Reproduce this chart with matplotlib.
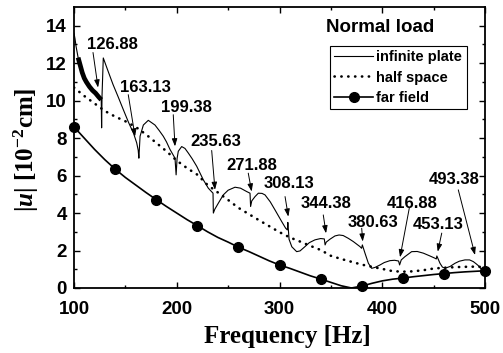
import matplotlib
matplotlib.use("Agg")
import matplotlib.pyplot as plt
from matplotlib.lines import Line2D

# ---------------- data ----------------
plate_f = [100, 101, 102, 104, 106, 108, 110, 112, 115, 118,
           121, 124, 126.5, 126.88, 127.3, 128.5, 133, 138, 143, 148,
           153, 158, 161, 162.5, 163.13, 164.3, 167.5, 172.3, 178.8, 183,
           186.9, 190, 193.4, 196, 198.3, 199.38, 200.3, 201.5, 204.8, 208,
           211.3, 215, 219.4, 225.8, 230.7, 235.3, 235.63, 237, 240.5, 245.3,
           250, 256.7, 262, 268, 271.3, 271.88, 273, 276.2, 279.4, 283,
           285.9, 291, 295.6, 302.1, 306, 307.6, 308.13, 309.3, 312, 316.7,
           320, 324.8, 329, 334.5, 340, 343.6, 344.38, 345.5, 349, 354,
           358, 362, 367, 371.8, 378.3, 379.9, 380.63, 383.2, 386.5, 389.7,
           393, 397.8, 402, 407.5, 412, 415.9, 416.88, 418.5, 422, 428.6,
           434, 440, 446, 451.3, 452.6, 453.13, 456.2, 458.5, 461, 466,
           470.8, 475, 480.5, 485, 488.6, 491.2, 493.38, 496.8, 500]
plate_u = [13.6, 13.3, 12.9, 12.3, 11.9, 11.5, 11.2, 11.0, 10.75, 10.55,
           10.4, 10.2, 10.05, 8.55, 10.3, 12.28, 11.6, 10.86, 10.2, 9.52,
           8.85, 8.25, 7.75, 7.35, 6.93, 8.1, 8.7, 8.95, 8.7, 8.4,
           8.1, 7.8, 7.4, 7.15, 6.93, 6.04, 6.9, 7.3, 7.55, 7.45,
           7.2, 6.9, 6.5, 5.78, 5.33, 5.06, 4.0, 4.2, 4.53, 4.97,
           5.22, 5.38, 5.33, 5.15, 5.06, 4.35, 4.65, 4.88, 5.06, 5.05,
           4.97, 4.6, 4.17, 3.55, 3.19, 3.1, 3.5, 2.6, 2.2, 1.94,
           1.98, 2.21, 2.42, 2.57, 2.64, 2.62, 2.3, 2.45, 2.6, 2.78,
           2.83, 2.8, 2.65, 2.48, 2.21, 2.12, 2.3, 1.86, 1.32, 1.05,
           1.1, 1.23, 1.36, 1.46, 1.48, 1.44, 1.23, 1.5, 1.67, 1.94,
           1.95, 1.86, 1.72, 1.59, 1.55, 1.71, 1.32, 1.12, 1.05, 1.15,
           1.32, 1.43, 1.5, 1.5, 1.41, 1.3, 1.2, 0.98, 1.02]

half_f = list(range(100, 501, 10))
half_u = [10.7, 10.25, 9.85, 9.45, 9.15, 8.9, 8.6, 8.2, 7.75, 7.3,
          6.8, 6.4, 6.05, 5.5, 5.1, 4.7, 4.28, 3.95, 3.62, 3.3,
          2.98, 2.7, 2.48, 2.25, 2.03, 1.72, 1.55, 1.4, 1.25, 1.13,
          1.02, 0.9, 0.87, 0.89, 0.95, 1.04, 1.08, 1.11, 1.13, 1.14,
          1.12]

far_f = list(range(100, 501, 10))
far_u = [8.6, 8.0, 7.4, 6.85, 6.35, 5.9, 5.5, 5.1, 4.72, 4.35,
         4.0, 3.65, 3.33, 3.0, 2.7, 2.45, 2.18, 1.95, 1.7, 1.45,
         1.23, 1.05, 0.85, 0.65, 0.48, 0.3, 0.12, 0.0, 0.1, 0.25,
         0.38, 0.47, 0.53, 0.6, 0.66, 0.72, 0.77, 0.82, 0.86, 0.89,
         0.92]
far_mark_f = [100, 140, 180, 220, 260, 300, 340, 380, 420, 460, 500]
far_mark_u = [8.6, 6.35, 4.72, 3.33, 2.18, 1.23, 0.48, 0.1, 0.53, 0.77, 0.92]

labels = ["126.88", "163.13", "199.38", "235.63", "271.88", "308.13",
          "344.38", "380.63", "416.88", "453.13", "493.38"]
label_x = [137.5, 170, 209.7, 238.2, 273.2, 309.3, 345.3, 391.3, 429, 454.6, 470]
label_y = [13.1, 10.8, 9.73, 7.9, 6.63, 5.68, 4.62, 3.6, 4.6, 3.5, 5.87]
arrow_start_x = [118.5, 152.8, 196.6, 234, 269.6, 305.4, 342.6, 380, 426.3, 457.9, 474]
arrow_start_y = [12.57, 10.32, 9.25, 7.34, 6.13, 4.88, 3.9, 3.19, 4.26, 2.93, 5.24]
arrow_tip_x = [123.4, 159.4, 198.3, 237.2, 272.9, 308.6, 345.3, 381, 417.3, 454, 490.3]
arrow_tip_y = [10.7, 8.09, 7.56, 5.24, 5.15, 3.81, 2.92, 2.48, 1.64, 1.94, 1.76]

# ---------------- style ----------------
plt.rcParams['mathtext.fontset'] = 'custom'
plt.rcParams['mathtext.rm'] = 'Liberation Serif:bold'
plt.rcParams['mathtext.it'] = 'Liberation Serif:italic:bold'
plt.rcParams['mathtext.bf'] = 'Liberation Serif:bold'

fig = plt.figure(figsize=(5.03, 3.53), dpi=100)
ax = fig.add_axes([74/503, 65/353, 411/503, 281/353])

sans = 'Liberation Sans'

ax.plot(plate_f, plate_u, color='black', lw=0.8, label='infinite plate')
thick = [i for i, f in enumerate(plate_f) if 104 <= f <= 126.5]
ax.plot([plate_f[i] for i in thick], [plate_u[i] for i in thick],
        color='black', lw=3.4, solid_capstyle='butt')
ax.plot(half_f, half_u, color='black', lw=1.9, linestyle=(0, (0.1, 2.5)),
        dash_capstyle='round', label='half space')
ax.plot(far_f, far_u, color='black', lw=1.2)
ax.plot(far_mark_f, far_mark_u, linestyle='none', marker='o', ms=7,
        color='black', clip_on=False, zorder=5)

for t, lx, ly, sx, sy, tx, ty in zip(labels, label_x, label_y, arrow_start_x,
                                     arrow_start_y, arrow_tip_x, arrow_tip_y):
    ax.text(lx, ly - 0.33, t, ha='center', va='baseline', fontsize=12,
            fontweight='bold', family=sans)
    ax.annotate('', xy=(tx, ty), xytext=(sx, sy),
                arrowprops=dict(arrowstyle='-|>,head_length=0.45,head_width=0.16',
                                color='black', lw=0.7, shrinkA=0, shrinkB=0))

ax.text(397.8, 14.0 - 0.35, 'Normal load', ha='center', va='baseline',
        fontsize=13.5, fontweight='bold', family=sans)

ax.set_xlim(100, 500)
ax.set_ylim(0, 15)
ax.set_xticks([100, 200, 300, 400, 500])
ax.set_xticks(range(150, 500, 100), minor=True)
ax.set_yticks(range(0, 15, 2))
ax.set_yticks(range(1, 15, 2), minor=True)
ax.tick_params(which='both', direction='in', top=True, right=True, width=1.0)
ax.tick_params(which='major', length=4)
ax.tick_params(which='minor', length=2.5)
ax.tick_params(axis='x', which='major', pad=9)
ax.tick_params(axis='y', which='major', pad=5)
for lab in ax.get_xticklabels() + ax.get_yticklabels():
    lab.set_fontfamily(sans)
    lab.set_fontweight('bold')
    lab.set_fontsize(13.5)
for sp in ax.spines.values():
    sp.set_linewidth(1.3)

far_handle = Line2D([], [], color='black', lw=1.2, marker='o', ms=7)
h1, h2 = ax.get_legend_handles_labels()[0][:2]
leg = ax.legend([h1, h2, far_handle], ['infinite plate', 'half space', 'far field'],
                loc='upper right', bbox_to_anchor=(0.955, 0.861), borderaxespad=0,
                frameon=True, fancybox=False, edgecolor='black', framealpha=1,
                prop={'family': sans, 'weight': 'bold', 'size': 10.5},
                handlelength=2.7, handletextpad=0.2, labelspacing=0.42,
                borderpad=0.3, numpoints=1)
leg.get_frame().set_linewidth(0.8)

fig.text(287/503, 1 - 336.7/353, 'Frequency [Hz]', ha='center', va='center',
         fontsize=18, fontweight='bold', family='Liberation Serif')
fig.text(26.5/503, 1 - 150/353, r'$|u|$ [10$^{-2}$cm]', ha='center', va='center',
         rotation=90, fontsize=18, fontweight='bold', family='Liberation Serif')

fig.savefig('out.png', dpi=100)
